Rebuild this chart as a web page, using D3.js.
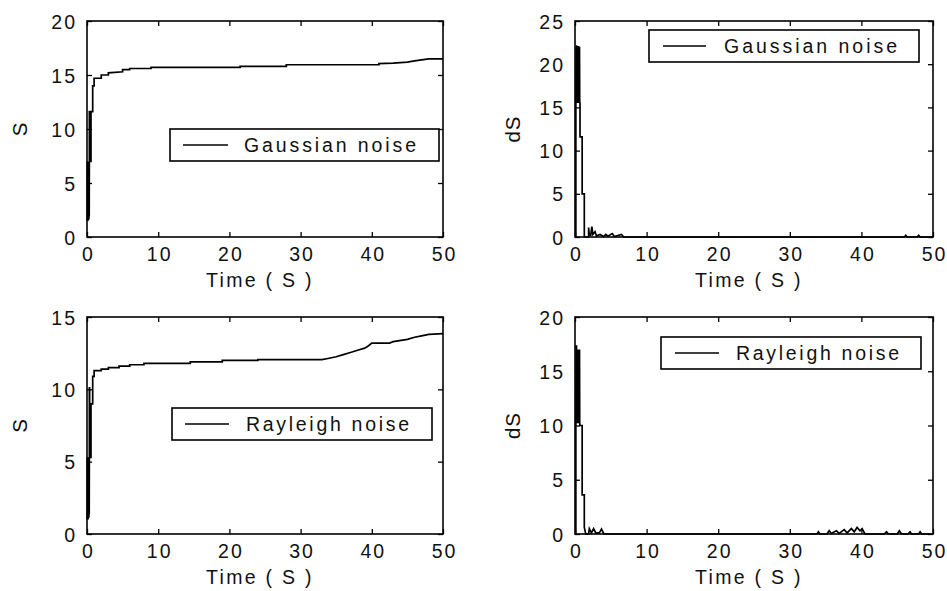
<!DOCTYPE html>
<html>
<head>
<meta charset="utf-8">
<script src="https://cdn.jsdelivr.net/npm/d3@7"></script>
<style>
  html, body { margin: 0; padding: 0; background: #fff; }
  svg text { font-family: "Liberation Sans", Arial, sans-serif; fill: #111; }
</style>
</head>
<body>
<svg id="chart" width="947" height="591"></svg>
<script>
// ---------------- DATA ----------------
const timeTicks = [0, 10, 20, 30, 40, 50];
const yTicksS1 = [0, 5, 10, 15, 20];
const yTicksDS1 = [0, 5, 10, 15, 20, 25];
const yTicksS2 = [0, 5, 10, 15];
const yTicksDS2 = [0, 5, 10, 15, 20];
const legendLabels = ["Gaussian noise", "Gaussian noise", "Rayleigh noise", "Rayleigh noise"];
const yLabels = ["S", "dS", "S", "dS"];
const xLabel = "Time ( S )";

// S, Gaussian noise  [time, S]
const gaussS = [
  [0.03,1.5],[0.05,7.0],[0.07,1.6],[0.09,7.0],[0.11,1.8],[0.13,7.0],[0.15,1.5],[0.17,7.0],
  [0.19,2.0],[0.21,7.0],[0.23,1.6],[0.25,7.0],[0.27,1.7],[0.29,7.0],[0.31,1.9],[0.33,7.0],
  [0.33,11.6],[0.37,11.6],[0.37,7.0],[0.56,7.0],[0.56,11.6],
  [0.80,11.6],[0.80,14.0],[1.0,14.0],[1.0,14.7],[2.0,14.7],[2.0,15.0],[3.0,15.0],[3.0,15.2],
  [5.0,15.3],[5.0,15.5],[6.0,15.5],[6.0,15.6],[9.0,15.6],[9.0,15.7],[21.5,15.7],[21.5,15.8],
  [28,15.8],[28,15.95],[41,15.95],[41,16.05],[43,16.1],[45,16.2],[46,16.3],[47,16.4],[48,16.5],[50,16.5]
];
// dS, Gaussian noise
const gaussDS = [
  [0.12,0],[0.12,15.5],[0.15,22.0],[0.18,15.6],[0.21,22.2],[0.24,15.5],[0.27,22.0],[0.30,15.6],
  [0.33,22.1],[0.36,15.5],[0.39,22.0],[0.42,15.6],[0.45,22.0],[0.48,15.5],[0.51,22.1],[0.54,15.6],
  [0.57,22.0],[0.60,15.5],[0.63,22.0],[0.66,15.6],[0.70,15.4],[0.70,11.6],[1.0,11.6],
  [1.0,5.0],[1.3,5.0],[1.3,0],[1.9,0],[1.9,1.1],[2.0,0.3],[2.2,0.2],[2.35,1.2],[2.5,0.3],
  [2.8,0.6],[3.0,0.1],[3.5,0.3],[4.0,0.05],[4.3,0.3],[4.6,0.1],[5.2,0.4],[5.5,0.05],[6.5,0.3],
  [6.8,0],[46,0],[46.2,0.2],[46.4,0],[47.8,0],[48,0.2],[48.2,0],[50,0]
];
// S, Rayleigh noise
const rayS = [
  [0.03,1.0],[0.05,5.3],[0.07,1.1],[0.09,5.3],[0.11,1.2],[0.13,5.3],[0.15,1.0],[0.17,5.3],
  [0.19,1.3],[0.21,5.3],[0.23,1.1],[0.25,5.3],[0.27,1.2],[0.29,5.3],[0.31,1.4],[0.33,5.3],
  [0.33,10.1],[0.37,10.1],[0.37,5.3],[0.56,5.3],[0.56,9.0],
  [0.80,9.0],[0.80,10.9],[1.0,10.9],[1.0,11.3],[2.0,11.3],[2.0,11.4],[3.0,11.4],[3.0,11.5],
  [4.5,11.5],[4.5,11.6],[6,11.6],[6,11.7],[8,11.7],[8,11.8],[14.5,11.8],[14.5,11.9],[19,11.9],
  [19,12.0],[24,12.0],[24,12.05],[33,12.05],[34,12.15],[35,12.25],[36,12.4],[37,12.55],[38,12.7],
  [39,12.85],[39.5,13.0],[40,13.2],[42.5,13.2],[43,13.3],[45,13.45],[46,13.6],[47,13.7],[48,13.8],[50,13.85]
];
// dS, Rayleigh noise
const rayDS = [
  [0.12,0],[0.12,10.2],[0.15,17.4],[0.18,10.2],[0.21,17.4],[0.24,10.3],[0.27,17.0],[0.30,10.2],
  [0.33,17.0],[0.36,10.3],[0.39,17.0],[0.42,10.2],[0.45,17.0],[0.48,10.3],[0.51,17.0],[0.54,10.2],
  [0.57,17.0],[0.60,10.2],[0.63,17.0],[0.66,10.2],[0.70,10.0],[1.0,10.0],[1.0,3.6],
  [1.3,3.6],[1.3,0.6],[1.5,0],[1.9,0],[2.0,0.5],[2.3,0.1],[2.6,0.5],[2.9,0.1],[3.4,0.1],[3.7,0.45],
  [4.0,0.05],[4.3,0],[33.8,0],[34,0.2],[34.2,0],[35.2,0],[35.5,0.3],[35.8,0.05],[36.5,0.3],
  [36.9,0.05],[37.6,0.4],[38,0.1],[38.6,0.5],[39,0.2],[39.4,0.6],[39.8,0.3],[40.1,0.5],[40.5,0],
  [43.2,0],[43.5,0.2],[43.8,0],[45,0],[45.3,0.3],[45.6,0],[46.5,0],[46.8,0.2],[47,0],[48,0],
  [48.2,0.2],[48.4,0],[50,0]
];

// ---------------- LAYOUT ----------------
const panels = [
  { l: 87,  r: 443, t: 21,  b: 237, ymax: 20, yt: yTicksS1,  data: gaussS,
    leg: { x1: 170, x2: 439, y1: 129, y2: 161, lx1: 183, lx2: 228, tx: 244, tw: 172 } },
  { l: 575, r: 933, t: 21,  b: 237, ymax: 25, yt: yTicksDS1, data: gaussDS,
    leg: { x1: 649, x2: 919, y1: 30,  y2: 62,  lx1: 663, lx2: 706, tx: 724, tw: 173 } },
  { l: 87,  r: 443, t: 317, b: 534, ymax: 15, yt: yTicksS2,  data: rayS,
    leg: { x1: 172, x2: 432, y1: 408, y2: 440, lx1: 185, lx2: 229, tx: 246, tw: 163 } },
  { l: 575, r: 933, t: 317, b: 534, ymax: 20, yt: yTicksDS2, data: rayDS,
    leg: { x1: 661, x2: 921, y1: 337, y2: 369, lx1: 675, lx2: 719, tx: 736, tw: 163 } }
];

const svg = d3.select("#chart");
const FS = 19.5;

panels.forEach((p, i) => {
  const x = d3.scaleLinear().domain([0, 50]).range([p.l, p.r]);
  const y = d3.scaleLinear().domain([0, p.ymax]).range([p.b, p.t]);
  const g = svg.append("g");

  // data line
  g.append("path")
    .datum(p.data)
    .attr("fill", "none")
    .attr("stroke", "#000")
    .attr("stroke-width", 1.7)
    .attr("stroke-linejoin", "miter")
    .attr("d", d3.line().x(d => x(d[0])).y(d => y(d[1])));

  // axes (inner ticks, box)
  const tl = 5;
  const bottom = g.append("g").attr("transform", `translate(0,${p.b})`)
    .call(d3.axisBottom(x).tickValues(timeTicks).tickSizeInner(-tl).tickSizeOuter(0).tickPadding(10));
  const top = g.append("g").attr("transform", `translate(0,${p.t})`)
    .call(d3.axisTop(x).tickValues(timeTicks).tickSizeInner(-tl).tickSizeOuter(0).tickFormat(""));
  const left = g.append("g").attr("transform", `translate(${p.l},0)`)
    .call(d3.axisLeft(y).tickValues(p.yt).tickSizeInner(-tl).tickSizeOuter(0).tickPadding(10));
  const right = g.append("g").attr("transform", `translate(${p.r},0)`)
    .call(d3.axisRight(y).tickValues(p.yt).tickSizeInner(-tl).tickSizeOuter(0).tickFormat(""));
  [bottom, top, left, right].forEach(a => {
    a.select(".domain").remove();
    a.selectAll("line").attr("stroke", "#000").attr("stroke-width", 1.3);
    a.selectAll("text").attr("font-size", FS).attr("fill", "#111")
      .attr("font-family", '"Liberation Sans", Arial, sans-serif')
      .style("letter-spacing", "2px");
  });
  bottom.selectAll("text").attr("dy", null).attr("y", 24).attr("dx", 1);
  left.selectAll("text").attr("x", -10).attr("dx", 0).attr("dy", "0.36em");

  g.append("rect")
    .attr("x", p.l).attr("y", p.t)
    .attr("width", p.r - p.l).attr("height", p.b - p.t)
    .attr("fill", "none").attr("stroke", "#000").attr("stroke-width", 1.6);

  // x label
  g.append("text")
    .attr("x", (p.l + p.r) / 2 - 5)
    .attr("y", p.b + 50)
    .attr("text-anchor", "middle")
    .attr("font-size", FS)
    .style("letter-spacing", "2.3px")
    .text(xLabel);

  // y label
  const ylx = i % 2 === 0 ? p.l - 60 : p.l - 55;
  g.append("text")
    .attr("transform", `translate(${ylx},${(p.t + p.b) / 2}) rotate(-90)`)
    .attr("text-anchor", "middle")
    .attr("font-size", FS + 1)
    .style("letter-spacing", "1px")
    .text(yLabels[i]);

  // legend
  const L = p.leg;
  g.append("rect")
    .attr("x", L.x1).attr("y", L.y1)
    .attr("width", L.x2 - L.x1).attr("height", L.y2 - L.y1)
    .attr("fill", "#fff").attr("stroke", "#000").attr("stroke-width", 1.6);
  const cy = (L.y1 + L.y2) / 2;
  g.append("line")
    .attr("x1", L.lx1).attr("x2", L.lx2)
    .attr("y1", cy).attr("y2", cy)
    .attr("stroke", "#000").attr("stroke-width", 1.5);
  g.append("text")
    .attr("x", L.tx).attr("y", cy + 6.5)
    .attr("font-size", FS)
    .attr("textLength", L.tw)
    .attr("lengthAdjust", "spacing")
    .text(legendLabels[i]);
});
</script>
</body>
</html>
